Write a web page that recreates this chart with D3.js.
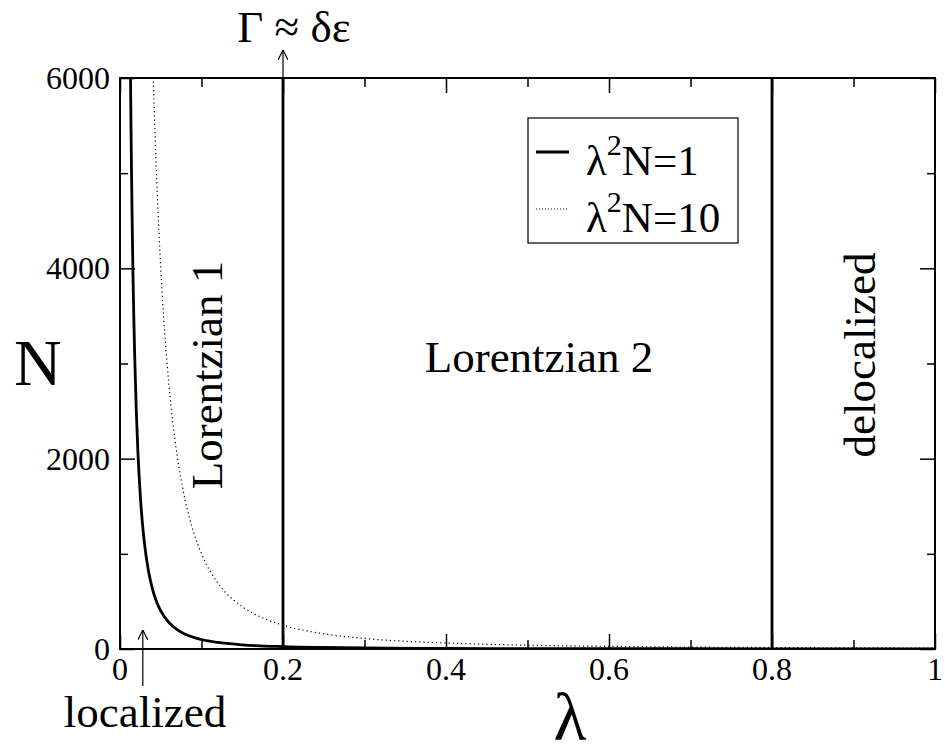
<!DOCTYPE html>
<html>
<head>
<meta charset="utf-8">
<script src="https://cdn.jsdelivr.net/npm/d3@7"></script>
</head>
<body style="margin:0">
<script>
// lambda^2 N = 1 curve, sampled along lambda
var lam1 = [0.0129, 0.0135, 0.014, 0.015, 0.016, 0.017, 0.018, 0.02, 0.022, 0.025, 0.028, 0.03, 0.035, 0.04, 0.045, 0.05, 0.06, 0.07, 0.08, 0.1, 0.12, 0.15, 0.2, 0.25, 0.3, 0.4, 0.5, 0.6, 0.8, 1.0];
var n1 = [6009, 5487, 5102, 4444, 3906, 3460, 3086, 2500, 2066, 1600, 1276, 1111, 816, 625, 494, 400, 278, 204, 156, 100, 69, 44, 25, 16, 11, 6, 4, 3, 2, 1];

// lambda^2 N = 10 curve
var lam2 = [0.0408, 0.043, 0.045, 0.048, 0.05, 0.055, 0.06, 0.065, 0.07, 0.08, 0.09, 0.1, 0.12, 0.14, 0.15, 0.18, 0.2, 0.25, 0.3, 0.4, 0.5, 0.6, 0.7, 0.8, 0.9, 1.0];
var n2 = [6007, 5408, 4938, 4340, 4000, 3306, 2778, 2367, 2041, 1563, 1235, 1000, 694, 510, 444, 309, 250, 160, 111, 63, 40, 28, 20, 16, 12, 10];

// regime boundaries (vertical lines)
var boundaries = [0.2, 0.8];

var xMajor = [0, 0.2, 0.4, 0.6, 0.8, 1];
var xMinor = [0.1, 0.3, 0.5, 0.7, 0.9];
var yMajor = [0, 2000, 4000, 6000];
var yMinor = [1000, 3000, 5000];

var width = 945, height = 754;
var margin = {left: 120, right: 10, top: 78, bottom: 105};

var svg = d3.select("body").append("svg")
    .attr("width", width)
    .attr("height", height)
    .style("display", "block");

var x = d3.scaleLinear().domain([0, 1]).range([margin.left, width - margin.right]);
var y = d3.scaleLinear().domain([0, 6000]).range([height - margin.bottom, margin.top]);

var plotW = x(1) - x(0), plotH = y(0) - y(6000);

svg.append("defs").append("clipPath").attr("id", "clip")
    .append("rect")
    .attr("x", x(0)).attr("y", y(6000))
    .attr("width", plotW).attr("height", plotH);

// minor ticks first, majors on top
function tickAxis(axisFn, scale, vals, size, tr) {
    var g = svg.append("g")
        .attr("transform", tr)
        .call(axisFn(scale).tickValues(vals).tickSize(size).tickSizeOuter(0).tickFormat(""));
    g.select(".domain").remove();
    g.selectAll(".tick line").attr("stroke", "#000").attr("stroke-width", 1.5);
    return g;
}

tickAxis(d3.axisBottom, x, xMinor, -9, "translate(0," + y(0) + ")");
tickAxis(d3.axisBottom, x, xMajor, -15, "translate(0," + y(0) + ")");
tickAxis(d3.axisTop, x, xMinor, -9, "translate(0," + y(6000) + ")");
tickAxis(d3.axisTop, x, xMajor, -15, "translate(0," + y(6000) + ")");
tickAxis(d3.axisLeft, y, yMinor, -8, "translate(" + x(0) + ",0)");
tickAxis(d3.axisLeft, y, yMajor, -15, "translate(" + x(0) + ",0)");
tickAxis(d3.axisRight, y, yMinor, -8, "translate(" + x(1) + ",0)");
tickAxis(d3.axisRight, y, yMajor, -15, "translate(" + x(1) + ",0)");

function label(g, size) {
    return g.append("text")
        .attr("font-size", size)
        .style("font-family", "'Liberation Serif'");
}

// tick labels
svg.append("g").selectAll("text")
    .data(xMajor)
    .join("text")
    .attr("font-size", 32)
    .style("font-family", "'Liberation Serif'")
    .attr("x", function (d) { return x(d); })
    .attr("y", y(0) + 31)
    .attr("text-anchor", "middle")
    .text(function (d) { return d; });

svg.append("g").selectAll("text")
    .data(yMajor)
    .join("text")
    .attr("font-size", 32)
    .style("font-family", "'Liberation Serif'")
    .attr("x", x(0) - 10)
    .attr("y", function (d) { return y(d) + 11; })
    .attr("text-anchor", "end")
    .text(function (d) { return d; });

// curves
var line = d3.line()
    .x(function (d) { return x(d[0]); })
    .y(function (d) { return y(d[1]); })
    .curve(d3.curveMonotoneX);

var plot = svg.append("g").attr("clip-path", "url(#clip)");

plot.append("path")
    .datum(d3.zip(lam2, n2))
    .attr("d", line)
    .attr("fill", "none")
    .attr("stroke", "#000")
    .attr("stroke-width", 1.2)
    .attr("stroke-dasharray", "1.2,3");

plot.append("path")
    .datum(d3.zip(lam1, n1))
    .attr("d", line)
    .attr("fill", "none")
    .attr("stroke", "#000")
    .attr("stroke-width", 2.8);

plot.selectAll(".bound")
    .data(boundaries)
    .join("line")
    .attr("class", "bound")
    .attr("x1", function (d) { return x(d); })
    .attr("x2", function (d) { return x(d); })
    .attr("y1", y(0))
    .attr("y2", y(6000))
    .attr("stroke", "#000")
    .attr("stroke-width", 2.8);

// frame
svg.append("rect")
    .attr("x", x(0)).attr("y", y(6000))
    .attr("width", plotW).attr("height", plotH)
    .attr("fill", "none")
    .attr("stroke", "#000")
    .attr("stroke-width", 2);

// axis titles
label(svg, 66).attr("x", 14).attr("y", 385).text("N");
label(svg, 68).attr("x", 570).attr("y", 740).attr("text-anchor", "middle").text("λ");

// region labels
label(svg, 45).attr("x", 539).attr("y", 372).attr("text-anchor", "middle").text("Lorentzian 2");
label(svg, 45).attr("transform", "translate(222,375) rotate(-90)").attr("text-anchor", "middle").text("Lorentzian 1");
label(svg, 45).attr("transform", "translate(875,355) rotate(-90)").attr("text-anchor", "middle").text("delocalized");

// arrows with annotations
svg.append("defs").append("marker")
    .attr("id", "arrow")
    .attr("viewBox", "0 0 10 10")
    .attr("refX", 10).attr("refY", 5)
    .attr("markerWidth", 10).attr("markerHeight", 10)
    .attr("markerUnits", "userSpaceOnUse")
    .attr("orient", "auto")
    .append("path")
    .attr("d", "M0,0 L10,5 L0,10")
    .attr("fill", "none")
    .attr("stroke", "#000")
    .attr("stroke-width", 1.2);

svg.append("line")
    .attr("x1", x(0.2)).attr("x2", x(0.2))
    .attr("y1", y(6000)).attr("y2", 50)
    .attr("stroke", "#000").attr("stroke-width", 1.2)
    .attr("marker-end", "url(#arrow)");

label(svg, 45).attr("x", 294).attr("y", 42).attr("text-anchor", "middle").text("Γ ≈ δε");

svg.append("line")
    .attr("x1", x(0.028)).attr("x2", x(0.028))
    .attr("y1", 686).attr("y2", 630)
    .attr("stroke", "#000").attr("stroke-width", 1.2)
    .attr("marker-end", "url(#arrow)");

label(svg, 45).attr("x", 145).attr("y", 727).attr("text-anchor", "middle").text("localized");

// legend
var legend = svg.append("g");
legend.append("rect")
    .attr("x", 528).attr("y", 118)
    .attr("width", 210).attr("height", 125)
    .attr("fill", "#fff")
    .attr("stroke", "#000")
    .attr("stroke-width", 1.2);

var legendItems = [
    {label: "1", dash: null, w: 2.8, y: 152},
    {label: "10", dash: "1,2", w: 1, y: 209}
];

legendItems.forEach(function (d) {
    legend.append("line")
        .attr("x1", 536).attr("x2", 569)
        .attr("y1", d.y).attr("y2", d.y)
        .attr("stroke", "#000")
        .attr("stroke-width", d.w)
        .attr("stroke-dasharray", d.dash);
    var t = label(legend, 43).attr("x", 586).attr("y", d.y + 23);
    t.append("tspan").text("λ");
    t.append("tspan").attr("font-size", 30).attr("dy", -20).text("2");
    t.append("tspan").attr("dy", 20).text("N=" + d.label);
});
</script>
</body>
</html>
